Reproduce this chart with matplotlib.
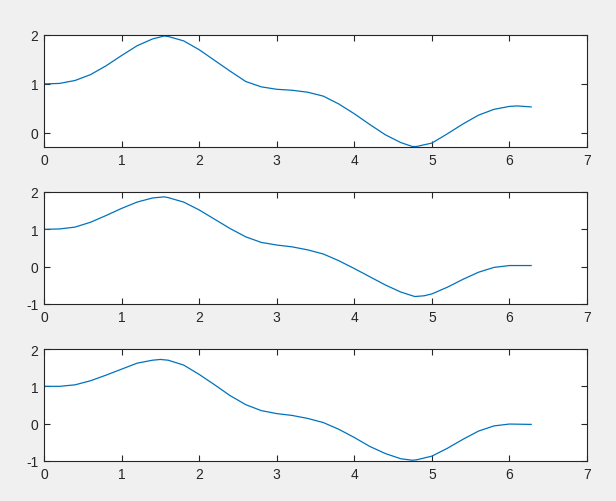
import matplotlib
matplotlib.use('Agg')
import matplotlib.pyplot as plt

# values, one list per panel
x1 = [0, 0.2, 0.4, 0.6, 0.8, 1.0, 1.2, 1.4, 1.55, 1.6, 1.8, 2.0, 2.2, 2.4, 2.6, 2.8, 3.0,
      3.2, 3.4, 3.6, 3.8, 4.0, 4.2, 4.4, 4.6, 4.75, 4.8, 5.0, 5.2, 5.4, 5.6, 5.8, 6.0, 6.1, 6.28]
y1 = [1.0, 1.01, 1.07, 1.19, 1.37, 1.58, 1.78, 1.92, 1.98, 1.97, 1.88, 1.70, 1.48, 1.26, 1.05, 0.94, 0.89,
      0.87, 0.83, 0.75, 0.59, 0.39, 0.17, -0.04, -0.20, -0.28, -0.28, -0.21, -0.02, 0.18, 0.36, 0.48, 0.54, 0.55, 0.53]

x2 = [0, 0.2, 0.4, 0.6, 0.8, 1.0, 1.2, 1.4, 1.55, 1.6, 1.8, 2.0, 2.2, 2.4, 2.6, 2.8, 3.0,
      3.2, 3.4, 3.6, 3.8, 4.0, 4.2, 4.4, 4.6, 4.78, 4.9, 5.0, 5.2, 5.4, 5.6, 5.8, 6.0, 6.28]
y2 = [1.0, 1.01, 1.06, 1.19, 1.37, 1.56, 1.73, 1.84, 1.87, 1.85, 1.73, 1.52, 1.27, 1.02, 0.80, 0.65, 0.58,
      0.53, 0.45, 0.34, 0.16, -0.05, -0.27, -0.49, -0.68, -0.80, -0.78, -0.73, -0.55, -0.34, -0.15, -0.02, 0.03, 0.03]

x3 = [0, 0.2, 0.4, 0.6, 0.8, 1.0, 1.2, 1.4, 1.5, 1.6, 1.8, 2.0, 2.2, 2.4, 2.6, 2.8, 3.0,
      3.2, 3.4, 3.6, 3.8, 4.0, 4.2, 4.4, 4.6, 4.75, 4.8, 5.0, 5.2, 5.4, 5.6, 5.8, 6.0, 6.28]
y3 = [1.0, 1.0, 1.04, 1.15, 1.30, 1.46, 1.62, 1.70, 1.72, 1.70, 1.57, 1.32, 1.04, 0.75, 0.51, 0.35, 0.27,
      0.22, 0.14, 0.03, -0.15, -0.37, -0.61, -0.80, -0.94, -0.98, -0.97, -0.87, -0.66, -0.42, -0.20, -0.06, -0.01, -0.02]

xticks = [0, 1, 2, 3, 4, 5, 6, 7]
yticks_top = [0, 1, 2]
yticks_rest = [-1, 0, 1, 2]

plt.rcParams['font.family'] = ['Liberation Sans', 'DejaVu Sans']
plt.rcParams['axes.unicode_minus'] = False

fig = plt.figure(figsize=(6.16, 5.02), dpi=100, facecolor='#f0f0f0')

W, H = 616, 502
left, right = 44, 587
panels = [(36, 148, x1, y1, yticks_top, (-0.29, 2)),
          (193, 305, x2, y2, yticks_rest, (-1, 2)),
          (350, 462, x3, y3, yticks_rest, (-1, 2))]

for top, bot, xs, ys, yt, ylim in panels:
    ax = fig.add_axes([left / W, (H - bot) / H, (right - left) / W, (bot - top) / H])
    ax.plot(xs, ys, color='#0072BD', lw=0.9)
    ax.set_xlim(0, 7)
    ax.set_ylim(*ylim)
    ax.set_xticks(xticks)
    ax.set_yticks(yt)
    for s in ax.spines.values():
        s.set_color('#262626')
        s.set_linewidth(0.8)
    ax.tick_params(direction='in', length=4.5, width=0.8, color='#262626',
                   labelcolor='#262626', labelsize=10, top=True, right=True, pad=4)

fig.savefig('out.png', dpi=100, facecolor=fig.get_facecolor())
